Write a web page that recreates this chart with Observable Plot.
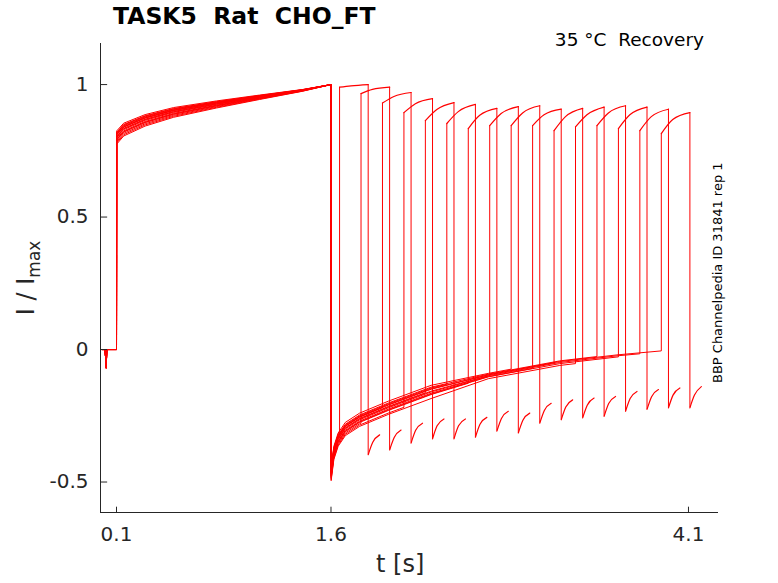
<!DOCTYPE html>
<html><head><meta charset="utf-8">
<script src="https://cdn.jsdelivr.net/npm/d3@7"></script>
<script src="https://cdn.jsdelivr.net/npm/@observablehq/plot@0.6"></script>
<style>
body{margin:0;background:#fff;font-family:"DejaVu Sans",sans-serif;}
#wrap{position:relative;width:778px;height:583px;}
.t{position:absolute;color:#000;white-space:nowrap;}
</style></head><body>
<div id="wrap"></div>
<script>
// conditioning pulse template (shared)
const condT = [0, 0.02, 0.028, 0.032, 0.05, 0.1, 0.101, 0.15, 0.3, 0.5, 0.8, 1.1, 1.4, 1.6];
const condV = [0, 0, -0.07, 0, 0, 0, 0.80, 0.83, 0.865, 0.895, 0.925, 0.952, 0.978, 1.0];
// recovery (post-conditioning) template
const recT = [1.6, 1.601, 1.62, 1.65, 1.7, 1.8, 2.0, 2.3, 2.7, 3.2, 3.6, 3.95];
const recV = [1.0, -0.47, -0.39, -0.34, -0.30, -0.265, -0.22, -0.16, -0.10, -0.05, -0.025, -0.008];
// per-sweep spread offsets
const spread = [0.02, -0.015, 0.01, -0.02, 0.005, 0.015, -0.01, 0.0, 0.025, -0.005, 0.01, -0.025, 0.018, -0.008, 0.003, 0.012];
// test pulse start times
const gaps = [1.66, 1.81, 1.96, 2.11, 2.26, 2.41, 2.56, 2.71, 2.86, 3.01, 3.16, 3.31, 3.46, 3.61, 3.76, 3.91];
const peakStart = [0.99, 0.966, 0.93, 0.894, 0.864, 0.853, 0.834, 0.845, 0.845, 0.845, 0.826, 0.84, 0.845, 0.834, 0.826, 0.815];
const peakMid   = [0.995, 0.982, 0.955, 0.928, 0.906, 0.898, 0.884, 0.891, 0.893, 0.886, 0.879, 0.886, 0.893, 0.886, 0.879, 0.868];
const peakEnd   = [1.0, 0.99, 0.97, 0.947, 0.932, 0.925, 0.91, 0.917, 0.92, 0.907, 0.91, 0.915, 0.92, 0.915, 0.907, 0.894];
const tailStart = [-0.397, -0.379, -0.353, -0.337, -0.337, -0.331, -0.308, -0.315, -0.278, -0.265, -0.258, -0.252, -0.233, -0.226, -0.220, -0.220];
const tailMid   = [-0.350, -0.332, -0.305, -0.288, -0.288, -0.282, -0.260, -0.267, -0.230, -0.217, -0.210, -0.204, -0.185, -0.178, -0.172, -0.172];
const tailEnd   = [-0.322, -0.304, -0.278, -0.262, -0.262, -0.256, -0.233, -0.240, -0.203, -0.190, -0.183, -0.177, -0.158, -0.151, -0.145, -0.140];
const pulseDur = 0.2, tailDur = 0.08;
const xTicks = [0.1, 1.6, 4.1];
const yTicks = [-0.5, 0, 0.5, 1];

const pts = [], arcs = [], drops = [];
gaps.forEach((g, k) => {
  const s = spread[k];
  condT.forEach((t, i) => pts.push({k, t, v: condV[i] + (t > 0.1 ? s * (1.6 - t) / 1.5 : 0)}));
  for (let i = 1; i < recT.length; i++) {
    const t = recT[i];
    const v = recV[i] + s * (i < 8 ? 1 : 0.4);
    if (t < g) pts.push({k, t, v});
    else {
      const pv = recV[i-1] + s * (i-1 < 8 ? 1 : 0.4);
      const pt = recT[i-1];
      pts.push({k, t: g, v: pv + (v - pv) * (g - pt) / (t - pt)});
      break;
    }
  }
  pts.push({k, t: g, v: peakStart[k]});
  arcs.push({z: "p" + k, t: g, v: peakStart[k]});
  arcs.push({z: "p" + k, t: g + pulseDur * 0.4, v: peakMid[k]});
  arcs.push({z: "p" + k, t: g + pulseDur, v: peakEnd[k]});
  drops.push({t: g + pulseDur, a: peakEnd[k], b: tailStart[k]});
  arcs.push({z: "q" + k, t: g + pulseDur, v: tailStart[k]});
  arcs.push({z: "q" + k, t: g + pulseDur + tailDur * 0.4, v: tailMid[k]});
  arcs.push({z: "q" + k, t: g + pulseDur + tailDur, v: tailEnd[k]});
});

const y0 = -0.615, y1 = 1.155, x0 = -0.012, x1 = 4.31;
const plot = Plot.plot({
  width: 778, height: 583,
  marginLeft: 100, marginRight: 60, marginTop: 43, marginBottom: 71,
  x: {domain: [x0, x1]}, y: {domain: [y0, y1]},
  style: {fontFamily: "DejaVu Sans", fontSize: "20px", color: "#262626"},
  marks: [
    Plot.line(pts, {x: "t", y: "v", z: "k", stroke: "#ff0000", strokeWidth: 1}),
    Plot.line(arcs, {x: "t", y: "v", z: "z", stroke: "#ff0000", strokeWidth: 1.2, curve: "monotone-x"}),
    Plot.ruleX(drops, {x: "t", y1: "a", y2: "b", stroke: "#ff0000", strokeWidth: 1}),
    Plot.ruleX([x0], {stroke: "#262626"}),
    Plot.ruleY([y0], {stroke: "#262626"}),
    Plot.ruleX(xTicks, {y1: y0, y2: y0 + 0.02, stroke: "#262626"}),
    Plot.ruleY(yTicks, {x1: x0, x2: x0 + 0.05, stroke: "#262626"}),
    Plot.axisX(xTicks, {tickSize: 0, tickPadding: 14, label: null, tickFormat: d => String(d), fontSize: 20, fill: "#262626"}),
    Plot.axisY(yTicks, {tickSize: 0, tickPadding: 12, label: null, tickFormat: d => String(d), fontSize: 20, fill: "#262626"})
  ]
});
const wrap = document.getElementById("wrap");
wrap.appendChild(plot);
const add = (html, css) => { const d = document.createElement("div"); d.className = "t"; d.innerHTML = html; d.style.cssText += css; wrap.appendChild(d); };
add("TASK5&nbsp;&nbsp;Rat&nbsp;&nbsp;CHO_FT", "left:113px;top:2px;font-size:23.5px;font-weight:bold;");
add("35 °C&nbsp;&nbsp;Recovery", "right:74px;top:29px;font-size:18.5px;");
add("t [s]", "left:376px;top:550px;font-size:24px;color:#262626;");
add("I / I<sub style='font-size:17px'>max</sub>", "left:-22px;top:262px;font-size:24px;color:#262626;transform:rotate(-90deg);transform-origin:center;width:100px;text-align:center;");
add("BBP Channelpedia ID 31841 rep 1", "left:610px;top:268px;font-size:13px;transform:rotate(-90deg);width:215px;text-align:center;");
</script></body></html>
